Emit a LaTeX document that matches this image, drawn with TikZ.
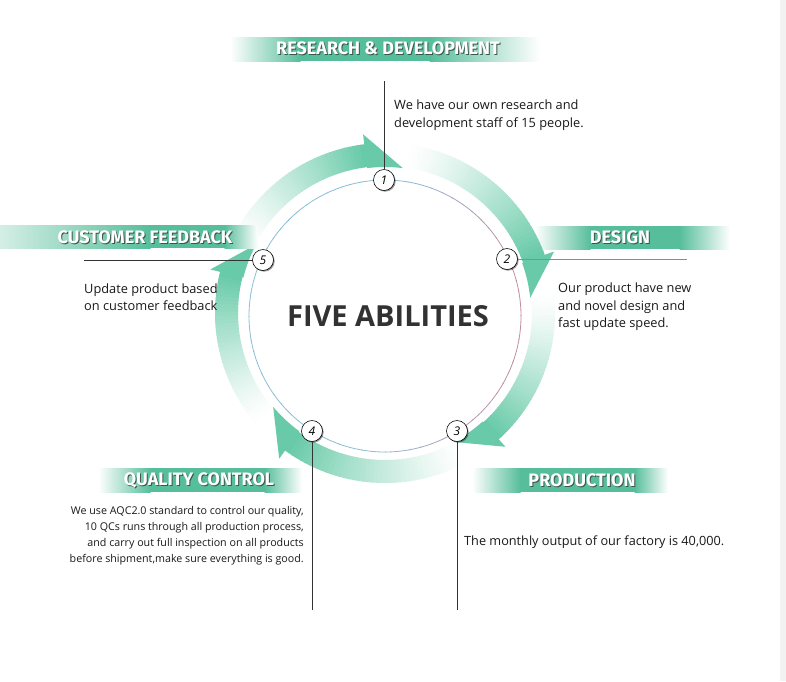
\documentclass[tikz,border=0pt]{standalone}
\usepackage{fontspec}
\setmainfont{Open Sans}
\newfontfamily\bannerfont{Fira Sans}
\usetikzlibrary{shadows}
\definecolor{arrowgreen}{RGB}{104,202,168}
\definecolor{bannergreen}{RGB}{86,190,154}
\definecolor{ringblue}{RGB}{140,190,215}
\definecolor{ringmauve}{RGB}{195,140,165}
\definecolor{shadowc}{RGB}{60,85,78}
\definecolor{titlec}{RGB}{50,50,50}
\definecolor{textc}{RGB}{25,25,25}
\newcommand\shtext[1]{\leavevmode\rlap{\kern1pt\raisebox{-1pt}{\textcolor{shadowc}{#1}}}\textcolor{white}{#1}}
\tikzset{
  numnode/.style={circle, draw=black, line width=0.6pt, fill=white, minimum size=21pt, inner sep=0pt,
    font=\fontsize{12}{12}\selectfont\itshape,
    drop shadow={shadow xshift=1.2pt, shadow yshift=-1.2pt, opacity=0.4, fill=black}},
  bodytext/.style={inner sep=0pt, text=textc},
  bannertext/.style={inner sep=0pt, font=\bannerfont\bfseries\fontsize{18}{18}\selectfont},
  leader/.style={draw=black!80, line width=0.7pt},
}
\begin{document}
\begin{tikzpicture}[x=1pt,y=-1pt]
\useasboundingbox (0,0) rectangle (786,681);
\fill[white] (0,0) rectangle (786,681);
\fill[black!5] (780,0) rectangle (786,681);

% banners
\shade[left color=white, right color=bannergreen] (230,37) rectangle (300.5,61);
\fill[bannergreen] (300,37) rectangle (430,61);
\shade[left color=bannergreen, right color=white] (429.5,37) rectangle (540,61);

\shade[left color=white, right color=bannergreen] (535,226) rectangle (590.5,249);
\fill[bannergreen] (590,226) rectangle (680,249);
\shade[left color=bannergreen, right color=white] (679.5,226) rectangle (730,249);

\shade[left color=white, right color=bannergreen] (98,468) rectangle (150.5,492);
\fill[bannergreen] (150,468) rectangle (265,492);
\shade[left color=bannergreen, right color=white] (264.5,468) rectangle (302,492);

\shade[left color=white, right color=bannergreen] (472,468) rectangle (520.5,492);
\fill[bannergreen] (520,468) rectangle (635,492);
\shade[left color=bannergreen, right color=white] (634.5,468) rectangle (668,492);

% ring arrows
\begin{scope}[shift={(385,313)},x=1pt,y=1pt]
  \foreach \s/\b in {152/97,81/20,6/-48,-62/-126,-140/-194}{
    \foreach \k in {0,...,39}{
      \pgfmathsetmacro\aone{\s+(\b-\s)*\k/40}
      \pgfmathsetmacro\atwo{\s+(\b-\s)*(\k+1.3)/40}
      \pgfmathsetmacro\pc{100*((\k+1)/40)^1.25}
      \fill[arrowgreen!\pc!white] (\aone:147) arc[start angle=\aone,end angle=\atwo,radius=147]
        -- (\atwo:170) arc[start angle=\atwo,end angle=\aone,radius=170] -- cycle;
    }
  }
  \foreach \b in {97,20,-48,-126,-194}{
    \pgfmathsetmacro\tp{\b-14}
    \fill[arrowgreen] (\b:146) -- (\b:180) -- (\tp:146) arc[start angle=\tp,end angle=\b,radius=146] -- cycle;
  }
\end{scope}

% customer feedback banner (over the arrow tail)
\shade[left color=bannergreen!25!white, right color=bannergreen] (0,225) rectangle (150.5,248);
\fill[bannergreen] (150,225) rectangle (225,248);
\shade[left color=bannergreen, right color=white] (224.5,225) rectangle (258,248);

% inner circle
\begin{scope}[shift={(385,316)},x=1pt,y=1pt]
  \foreach \a in {0,5,...,355}{
    \pgfmathsetmacro\w{100*max(0,cos(\a+7.5))}
    \draw[line width=0.8pt, color=ringmauve!\w!ringblue] (\a:136) arc[start angle=\a,end angle=\a+5.4,radius=136];
  }
\end{scope}

% banner texts
\node[bannertext] (rd) at (388,48.5) {\shtext{RESEARCH \& DEVELOPMENT}};
\node[bannertext] (cf) at (145,237.5) {\shtext{CUSTOMER FEEDBACK}};
\node[bannertext] (ds) at (620,238) {\shtext{DESIGN}};
\node[bannertext] (qc) at (199,480.5) {\shtext{QUALITY CONTROL}};
\node[bannertext] (pr) at (582,480.5) {\shtext{PRODUCTION}};

% numbered nodes
\node[numnode] (n1) at (384,180) {1};
\node[numnode] (n2) at (507,259) {2};
\node[numnode] (n3) at (457,431) {3};
\node[numnode] (n4) at (312,431) {4};
\node[numnode] (n5) at (263,260) {5};

\coordinate (e1) at (384,81);
\coordinate (e2) at (687,259);
\coordinate (e3) at (457,610);
\coordinate (e4) at (312,610);
\coordinate (e5) at (84,260);
\draw[leader] (n1) -- (e1);
\draw[leader, draw=black!45] (n2) -- (e2);
\draw[leader] (n3) -- (e3);
\draw[leader] (n4) -- (e4);
\draw[leader] (n5) -- (e5);

% title
\node[inner sep=0pt, text=titlec, font=\bfseries\fontsize{29}{29}\selectfont] (title) at (388,316) {FIVE ABILITIES};

% body texts
\node[bodytext, anchor=north west, align=left, font=\fontsize{12.8}{18}\selectfont] (t1) at (394,100)
  {We have our own research and\\development staff of 15 people.};
\node[bodytext, anchor=north west, align=left, font=\fontsize{12.8}{17.5}\selectfont] (t2) at (558,283)
  {Our product have new\\and novel design and\\fast update speed.};
\node[bodytext, anchor=north west, align=left, font=\fontsize{12.8}{17}\selectfont] (t5) at (84,284)
  {Update product based\\on customer feedback};
\node[bodytext, anchor=north east, align=right, font=\fontsize{10.7}{16}\selectfont] (t4) at (304,506)
  {We use AQC2.0 standard to control our quality,\\10 QCs runs through all production process,\\and carry out full inspection on all products\\before shipment,make sure everything is good.};
\node[bodytext, anchor=west, font=\fontsize{12.7}{14}\selectfont] (t3) at (464,542)
  {The monthly output of our factory is 40,000.};
\end{tikzpicture}
\end{document}
